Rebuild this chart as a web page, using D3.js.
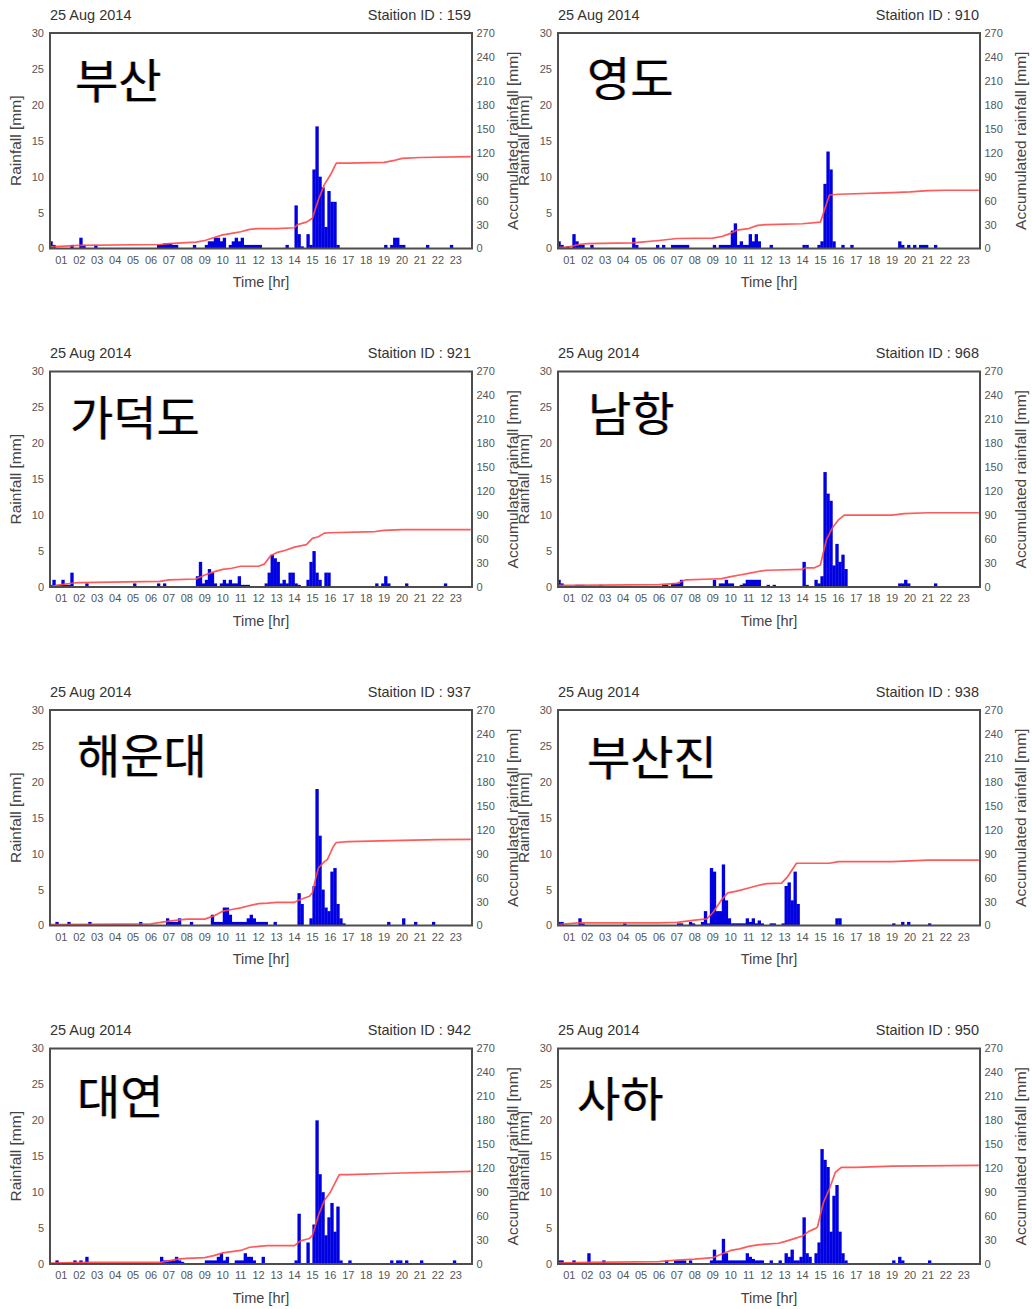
<!DOCTYPE html>
<html>
<head>
<meta charset="utf-8">
<script src="https://cdn.jsdelivr.net/npm/d3@7"></script>
<style>
  html, body { margin: 0; padding: 0; background: #fff; }
  svg { display: block; }
</style>
</head>
<body>
<svg id="chart" width="1032" height="1309"></svg>
<script>
// ---- Tick labels and shared text ----
const hourLabels = ["01","02","03","04","05","06","07","08","09","10","11","12",
                    "13","14","15","16","17","18","19","20","21","22","23"];
const rainTicks = [0, 5, 10, 15, 20, 25, 30];
const accTicks = [0, 30, 60, 90, 120, 150, 180, 210, 240, 270];
const dateText = "25 Aug 2014";
const stationIds = [159, 910, 921, 968, 937, 938, 942, 950];
const stationNames = ["부산", "영도", "가덕도", "남항", "해운대", "부산진", "대연", "사하"];

// ---- 10-minute rainfall [time, mm] ----
const busanRain = [
  ["00:20",1],["00:30",0.5],["01:30",0.5],["02:00",1.5],["02:10",0.5],["02:50",0.5],
  ["06:20",0.5],["06:30",0.5],["06:40",0.7],["06:50",0.7],["07:00",0.7],["07:10",0.5],["07:20",0.5],
  ["08:20",0.5],
  ["09:00",0.5],["09:10",1],["09:20",1],["09:30",1.5],["09:40",1.5],["09:50",1],["10:00",1.5],
  ["10:20",0.5],["10:30",1],["10:40",1.5],["10:50",1],["11:00",1.5],["11:10",0.5],["11:20",0.5],
  ["11:30",0.5],["11:40",0.5],["11:50",0.5],["12:00",0.5],
  ["13:30",0.5],
  ["14:00",6],["14:10",2],["14:20",0.3],["14:40",2],["14:50",0.5],
  ["15:00",11],["15:10",17],["15:20",10],["15:30",8.5],["15:40",3],["15:50",8],["16:00",6.5],
  ["16:10",6.5],["16:20",0.5],
  ["19:00",0.5],["19:20",0.5],["19:30",1.5],["19:40",1.5],["19:50",0.5],["20:00",0.5],
  ["21:20",0.5],["22:40",0.5]
];
const yeongdoRain = [
  ["00:20",1],["00:30",0.5],["00:50",0.3],["01:10",2],["01:20",1],["01:30",0.5],["01:40",0.5],
  ["02:10",0.5],["04:30",1.5],["04:40",0.5],["05:50",0.5],["06:10",0.5],
  ["06:40",0.5],["06:50",0.5],["07:00",0.5],["07:10",0.5],["07:20",0.5],["07:30",0.5],
  ["09:00",0.5],["09:20",0.5],["09:30",0.5],["09:40",0.5],["09:50",0.5],["10:00",2.5],["10:10",3.5],
  ["10:20",0.5],["10:30",1],["10:40",0.5],["10:50",0.5],["11:00",2],["11:10",1],["11:20",2],["11:30",1],
  ["12:10",0.5],["14:00",0.5],["14:10",0.5],
  ["14:50",0.5],["15:00",1],["15:10",9],["15:20",13.5],["15:30",11],["15:40",1],
  ["16:10",0.5],["16:40",0.5],
  ["19:20",1],["19:30",0.5],["19:50",0.5],["20:10",0.5],["20:30",0.5],["20:40",0.5],["20:50",0.5],
  ["21:20",0.5]
];
const gadeokRain = [
  ["00:20",0.3],["00:30",1],["00:40",0.3],["00:50",0.3],["01:00",1],["01:10",0.3],["01:20",0.3],
  ["01:30",2],["02:20",0.5],
  ["05:00",0.5],["06:20",0.5],["06:40",0.5],
  ["08:30",1.5],["08:40",3.5],["08:50",0.5],["09:00",1],["09:10",2.5],["09:20",2],["09:30",0.5],
  ["09:50",0.5],["10:00",1],["10:10",0.5],["10:20",1],["10:30",0.5],["10:40",0.5],["10:50",1.5],
  ["11:00",0.3],["11:10",0.3],["11:20",0.3],
  ["12:20",0.5],["12:30",2],["12:40",4.5],["12:50",4],["13:00",3.5],["13:10",0.5],["13:20",1],
  ["13:30",0.5],["13:40",2],["13:50",2],["14:00",0.5],["14:10",0.3],
  ["14:40",1],["14:50",3.5],["15:00",5],["15:10",2],["15:20",1],["15:40",2],["15:50",2],
  ["18:30",0.5],["18:50",0.5],["19:00",1.5],["19:10",0.5],["20:10",0.5],["22:20",0.5]
];
const namhangRain = [
  ["00:20",1],["00:30",0.5],["01:20",0.3],["01:30",0.3],["01:40",0.3],["02:40",0.3],
  ["06:10",0.3],["06:20",0.3],["06:40",0.5],["06:50",0.5],["07:00",0.5],["07:10",1],
  ["09:00",1],["09:20",0.5],["09:30",0.5],["09:40",1],["09:50",0.5],["10:00",0.5],
  ["10:30",0.3],["10:40",0.5],["10:50",1],["11:00",1],["11:10",1],["11:20",1],["11:30",1],
  ["12:00",0.3],["12:20",0.3],
  ["14:00",3.5],["14:10",0.3],["14:40",1],["14:50",0.5],["15:00",1.5],["15:10",16],["15:20",13],
  ["15:30",12],["15:40",3],["15:50",6],["16:00",3.5],["16:10",4.5],["16:20",2.5],
  ["19:20",0.5],["19:30",0.5],["19:40",1],["19:50",0.5],["21:20",0.5]
];
const haeundaeRain = [
  ["00:40",0.5],["01:20",0.5],["02:30",0.5],["05:20",0.5],
  ["06:50",1],["07:00",0.5],["07:10",0.5],["07:20",0.5],["07:30",1],["08:10",0.5],
  ["09:20",1.5],["09:30",0.5],["09:40",0.5],["09:50",0.5],["10:00",2.5],["10:10",2.5],["10:20",1.5],
  ["10:30",0.5],["10:40",0.5],["10:50",0.5],["11:00",0.5],["11:10",0.5],["11:20",1],["11:30",1.5],
  ["11:40",1],["11:50",0.5],["12:00",0.5],["12:10",0.5],["12:20",0.5],["12:50",0.5],
  ["14:10",4.5],["14:20",3],["14:50",1],["15:00",5.5],["15:10",19],["15:20",12.5],["15:30",5],
  ["15:40",2.5],["15:50",2],["16:00",7.5],["16:10",8],["16:20",3],["16:30",1],["16:40",0.3],
  ["19:10",0.5],["20:00",1],["20:40",0.5],["21:40",0.5]
];
const busanjinRain = [
  ["00:20",0.5],["00:30",0.5],["01:30",1],["01:40",0.3],["04:00",0.3],
  ["07:00",0.3],["07:10",0.3],["07:40",0.5],["07:50",0.3],
  ["08:20",0.5],["08:30",2],["08:40",0.3],["08:50",8],["09:00",7.5],["09:10",2],["09:20",2],
  ["09:30",8.5],["09:40",3.5],["09:50",1],["10:00",0.3],["10:10",0.3],["10:20",0.3],["10:30",0.3],
  ["10:40",0.3],["10:50",1],["11:00",0.5],["11:10",1],["11:20",0.3],["11:30",0.7],["11:40",0.3],
  ["12:10",0.3],["12:20",0.3],
  ["12:50",0.3],["13:00",5.5],["13:10",6],["13:20",3.5],["13:30",7.5],["13:40",3],
  ["15:50",1],["16:00",1],
  ["19:00",0.3],["19:30",0.5],["19:50",0.5],["21:00",0.3]
];
const daeyeonRain = [
  ["00:40",0.5],["01:40",0.5],["02:00",0.5],["02:20",1],
  ["06:30",1],["06:40",0.5],["06:50",0.5],["07:00",0.5],["07:10",0.5],["07:20",1],["07:30",0.5],
  ["07:40",0.3],
  ["09:00",0.5],["09:10",0.5],["09:20",0.5],["09:30",0.5],["09:40",1],["09:50",1.5],["10:00",0.5],
  ["10:10",1],["10:40",0.5],["10:50",0.5],["11:00",0.5],["11:10",1.5],["11:20",1],["11:30",1],
  ["11:40",0.5],["12:10",1],
  ["14:00",0.5],["14:10",7],["14:40",3],["15:00",5.5],["15:10",20],["15:20",12.5],["15:30",10],
  ["15:40",4],["15:50",6.5],["16:00",8.5],["16:10",4.5],["16:20",8],["16:30",0.5],
  ["17:00",0.5],
  ["19:20",0.5],["19:40",0.5],["19:50",0.5],["20:10",0.5],["21:00",0.5],["22:50",0.5]
];
const sahaRain = [
  ["00:20",0.5],["00:30",0.5],["01:10",0.5],["02:00",1.5],["02:50",0.5],
  ["06:20",0.5],["06:50",0.5],["07:00",0.5],["07:10",0.5],["07:20",0.5],["07:40",0.5],
  ["08:50",0.5],["09:00",2],["09:10",0.5],["09:20",0.5],["09:30",3.5],["09:40",1.5],["09:50",0.5],
  ["10:00",0.5],["10:10",0.5],["10:20",0.5],["10:30",0.5],["10:40",0.5],["10:50",1.5],["11:00",1],
  ["11:10",0.7],["11:20",0.5],["11:30",0.5],["11:40",0.5],["12:10",0.5],["12:40",0.5],
  ["13:00",1.5],["13:10",1],["13:20",2],["13:30",0.5],["13:40",0.5],["13:50",1],["14:00",6.5],
  ["14:10",1.5],["14:20",1],["14:40",1.5],["14:50",3],["15:00",16],["15:10",14.5],["15:20",13.5],
  ["15:30",4.5],["15:40",9.5],["15:50",11],["16:00",4.5],["16:10",1.5],["16:20",0.5],
  ["19:00",0.5],["19:20",1],["19:30",0.5],["21:00",0.5]
];

// ---- Accumulated rainfall [time, mm] ----
const busanAcc = [
  ["00:20",2],["02:00",4],["06:30",5],["07:00",6],["08:30",8],["09:00",10],["10:00",17],["10:30",19],
  ["11:00",21],["11:30",24],["12:00",25],["13:00",25],["14:00",26],["14:10",30],["14:40",33],
  ["15:00",38],["15:20",61],["15:40",80],["16:00",92],["16:20",107],["17:00",107],["19:00",108],
  ["19:30",110],["20:00",113],["21:00",114],["23:50",115]
];
const yeongdoAcc = [
  ["00:20",1],["01:00",2],["01:30",5],["02:00",6],["04:30",7],["05:00",8],["06:00",10],["07:00",12.5],
  ["09:00",13],["09:30",15],["10:00",19],["10:20",23],["11:00",25],["11:30",29],["12:00",30],
  ["14:00",31],["15:00",33],["15:10",44],["15:30",67],["16:00",68],["19:00",70],["20:00",71],
  ["21:00",72.5],["22:00",73],["23:50",73]
];
const gadeokAcc = [
  ["00:20",0.5],["01:00",3],["01:40",5],["02:00",5.5],["06:30",7],["07:00",9],["08:30",10],
  ["09:00",15],["09:30",19],["10:00",22],["10:30",23.5],["11:00",26],["12:00",26],["12:20",29],
  ["12:40",39],["13:00",43],["13:30",46],["14:00",50],["14:40",53],["15:00",61],["15:20",63],
  ["15:40",67.5],["16:00",68],["18:30",69.5],["19:00",71],["20:00",72],["23:50",72]
];
const namhangAcc = [
  ["00:20",2],["01:00",2],["06:00",3],["07:00",4.6],["07:30",9],["09:00",10],["09:30",10.5],
  ["10:00",13],["10:30",15],["11:00",17],["11:40",20],["12:00",21],["14:00",22],["14:10",24],
  ["14:40",24],["15:00",27.5],["15:20",59],["15:40",74],["16:00",84],["16:20",90],["19:00",90],
  ["19:40",92],["21:00",93],["23:50",93]
];
const haeundaeAcc = [
  ["00:20",1],["06:00",2],["07:00",5.4],["08:00",8],["09:00",8],["09:30",12],["10:00",18],
  ["10:30",20],["11:00",22],["11:30",25],["12:00",27.5],["12:30",28],["13:00",29],["14:00",29],
  ["14:20",32.5],["14:50",36.7],["15:00",41],["15:10",57.5],["15:20",72],["15:40",80],["15:50",82.5],
  ["16:10",99],["16:20",104],["17:00",105],["20:00",106.7],["22:00",107.5],["23:50",108]
];
const busanjinAcc = [
  ["00:20",1.2],["01:30",3.3],["06:00",3.3],["07:00",4],["08:00",6.7],["08:40",8.3],["09:00",16],
  ["09:30",32.5],["09:50",40.8],["10:20",43],["11:00",47],["11:40",51],["12:00",52.5],["12:50",53],
  ["13:10",61],["13:40",78],["15:30",78],["16:00",80],["19:00",80],["20:00",81],["21:00",82],
  ["23:50",82]
];
const daeyeonAcc = [
  ["00:20",1],["02:30",2],["06:30",2],["07:00",4],["07:30",6],["08:00",7],["09:00",8],["09:30",10.5],
  ["10:00",14],["11:00",17],["11:30",21],["12:00",22],["12:30",23],["14:00",23],["14:20",29],
  ["14:50",32],["15:00",35.6],["15:20",60.7],["15:40",79.5],["16:00",90],["16:30",112],["17:00",112],
  ["20:00",114],["23:50",116]
];
const sahaAcc = [
  ["00:20",1],["02:00",2],["06:00",3],["07:00",5],["08:00",6],["09:00",8],["09:30",12.5],["10:00",17],
  ["10:30",19],["11:00",22],["11:30",24],["12:00",25],["12:40",26],["13:00",28],["13:30",31.4],
  ["14:00",35],["14:20",40.6],["14:40",44],["14:50",46],["15:10",77],["15:30",94],["15:50",115],
  ["16:10",121],["17:00",121],["19:00",122.6],["23:50",123.5]
];

const rainSeries = [busanRain, yeongdoRain, gadeokRain, namhangRain,
                    haeundaeRain, busanjinRain, daeyeonRain, sahaRain];
const accSeries = [busanAcc, yeongdoAcc, gadeokAcc, namhangAcc,
                   haeundaeAcc, busanjinAcc, daeyeonAcc, sahaAcc];

// ---- Layout ----
const colX = [50, 558];
const rowY = [33, 371.5, 710, 1048.5];
const plotW = 422, plotH = 215.5;
// placement of the big station name inside each panel (offset from plot corner)
const nameOffset = [[25, 65], [29, 63], [20, 63], [30, 59], [27, 63], [29, 65], [27, 65], [19, 67]];

const toMin = s => +s.slice(0, 2) * 60 + +s.slice(3);
const svg = d3.select("#chart");
const FONT = '"Liberation Sans", Arial, Helvetica, sans-serif';

const x = d3.scaleLinear().domain([22, 1434]).range([0, plotW]);
const yRain = d3.scaleLinear().domain([0, 30]).range([plotH, 0]);
const yAcc = d3.scaleLinear().domain([0, 270]).range([plotH, 0]);

const defs = svg.append("defs");
defs.append("clipPath").attr("id", "plotClip")
  .append("rect").attr("x", 0).attr("y", 0).attr("width", plotW).attr("height", plotH);

stationIds.forEach((id, i) => {
  const px = colX[i % 2], py = rowY[Math.floor(i / 2)];
  const g = svg.append("g").attr("transform", `translate(${px},${py})`);

  // header texts
  g.append("text").attr("x", 0).attr("y", -13.5)
    .attr("font-family", FONT).attr("font-size", 14.5).attr("fill", "#333")
    .text(dateText);
  g.append("text").attr("x", plotW - 1).attr("y", -13.5).attr("text-anchor", "end")
    .attr("font-family", FONT).attr("font-size", 14.5).attr("fill", "#333")
    .text(`Staition ID : ${id}`);

  const plot = g.append("g").attr("clip-path", "url(#plotClip)");

  // 10-minute rainfall bars
  plot.selectAll("rect.bar").data(rainSeries[i]).join("rect")
    .attr("class", "bar")
    .attr("x", d => x(toMin(d[0])))
    .attr("width", d => x(toMin(d[0]) + 10) - x(toMin(d[0])) + 0.35)
    .attr("y", d => yRain(d[1]))
    .attr("height", d => plotH - yRain(d[1]))
    .attr("fill", "#0000e0");

  // accumulated rainfall line
  const line = d3.line().x(d => x(toMin(d[0]))).y(d => yAcc(d[1]));
  plot.append("path").datum(accSeries[i])
    .attr("d", line).attr("fill", "none")
    .attr("stroke", "#ff4848").attr("stroke-opacity", 0.9).attr("stroke-width", 1.7)
    .attr("stroke-linejoin", "round");

  // frame
  g.append("rect").attr("x", 0).attr("y", 0).attr("width", plotW).attr("height", plotH)
    .attr("fill", "none").attr("stroke", "#4d4d4d").attr("stroke-width", 2);

  // left axis labels
  g.selectAll("text.yl").data(rainTicks).join("text").attr("class", "yl")
    .attr("x", -6).attr("y", d => yRain(d)).attr("dy", "0.36em")
    .attr("text-anchor", "end").attr("font-family", FONT).attr("font-size", 11)
    .attr("fill", "#555").text(d => d);
  // right axis labels
  g.selectAll("text.yr").data(accTicks).join("text").attr("class", "yr")
    .attr("x", plotW + 4.5).attr("y", d => yAcc(d)).attr("dy", "0.36em")
    .attr("text-anchor", "start").attr("font-family", FONT).attr("font-size", 11)
    .attr("fill", "#555").text(d => d);
  // hour labels
  g.selectAll("text.xl").data(hourLabels).join("text").attr("class", "xl")
    .attr("x", d => x(+d * 60)).attr("y", plotH + 15)
    .attr("text-anchor", "middle").attr("font-family", FONT).attr("font-size", 11)
    .attr("fill", "#555").text(d => d);

  // axis titles
  g.append("text").attr("transform", `translate(${-29},${plotH / 2}) rotate(-90)`)
    .attr("text-anchor", "middle").attr("font-family", FONT).attr("font-size", 15.5)
    .attr("fill", "#444").text("Rainfall [mm]");
  g.append("text").attr("transform", `translate(${plotW + 46},${plotH / 2}) rotate(-90)`)
    .attr("text-anchor", "middle").attr("font-family", FONT).attr("font-size", 15.5)
    .attr("fill", "#444").text("Accumulated rainfall [mm]");
  g.append("text").attr("x", plotW / 2).attr("y", plotH + 38.5)
    .attr("text-anchor", "middle").attr("font-family", FONT).attr("font-size", 14.5)
    .attr("fill", "#444").text("Time [hr]");

  // station name, with a slight colour fringe around the glyphs
  const [nx, ny] = nameOffset[i];
  const nameG = g.append("g").attr("font-family", '"Noto Sans CJK KR", sans-serif')
    .attr("font-size", 47).attr("font-weight", 400);
  nameG.append("text").attr("x", nx - 0.7).attr("y", ny).attr("fill", "#f0a030")
    .attr("fill-opacity", 0.6).text(stationNames[i]);
  nameG.append("text").attr("x", nx + 0.7).attr("y", ny).attr("fill", "#2a4ad8")
    .attr("fill-opacity", 0.45).text(stationNames[i]);
  nameG.append("text").attr("x", nx).attr("y", ny).attr("fill", "#000").text(stationNames[i]);
});
</script>
</body>
</html>
